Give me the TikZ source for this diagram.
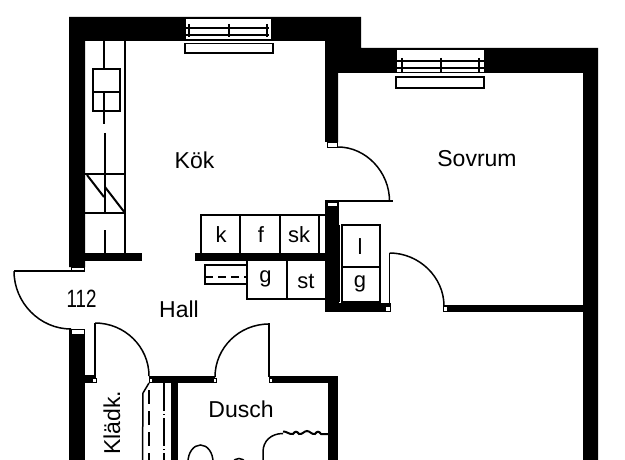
\documentclass[tikz,border=0pt]{standalone}
\usepackage{fontspec}
\setmainfont{Liberation Sans}
\usepackage{tikz}
\usetikzlibrary{positioning}

\begin{document}
\begin{tikzpicture}[
    x=1pt,y=-1pt,
    wallfill/.style={fill=black,draw=none},
    plan/.style={draw=black,line width=1.5pt},
    heavy/.style={draw=black,line width=2pt},
    slot/.style={fill=white,draw=black,line width=0.6pt},
    roomlabel/.style={font=\fontsize{23}{25}\selectfont,inner sep=0pt},
    unitlabel/.style={font=\fontsize{22}{24}\selectfont,inner sep=0pt},
]
\useasboundingbox (0,0) rectangle (625,460);
\clip (0,0) rectangle (625,460);

% Outer walls
\fill[wallfill] (69,17) -- (361,17) -- (361,48) -- (598,48) -- (598,460) -- (583,460) -- (583,73)
    -- (338,73) -- (338,142) -- (325,142) -- (325,41) -- (85,41) -- (85,267) -- (69,267) -- cycle;
\fill[wallfill] (69,329) rectangle (85,460);
% Inner walls
\fill[wallfill] (325,202) rectangle (339,312);
\fill[wallfill] (325,303) rectangle (391,312);
\fill[wallfill] (444,305) rectangle (583,312);
\fill[wallfill] (85,253) rectangle (142,261);
\fill[wallfill] (195,253) rectangle (326,261);
\fill[wallfill] (85,375) rectangle (96,383);
\fill[wallfill] (149,376) rectangle (215,383);
\fill[wallfill] (269,376) rectangle (338,383);
\fill[wallfill] (328,383) rectangle (338,460);
\fill[wallfill] (171,383) rectangle (178,460);

% Small openings at the door posts
\draw[slot] (327,142.5) rectangle (337,147);
\draw[slot] (327,202.5) rectangle (337,206);
\draw[slot] (71,267) rectangle (84,271);
\draw[slot] (71,329.5) rectangle (84,334);
\draw[slot] (92,378) rectangle (96,382);
\draw[slot] (149,378) rectangle (152,382);
\draw[slot] (213,378) rectangle (216,382);
\draw[slot] (269,378) rectangle (272,382);
\draw[slot] (385,306) rectangle (390,311);
\draw[slot] (443,306) rectangle (447,311);

% Kitchen window
\fill[white] (186,17.7) rectangle (271,40);
\draw[line width=0.6pt] (186,18) -- (271,18);
\draw[plan] (186,40) -- (271,40);
\draw[heavy] (186,28) -- (269,28);
\draw[heavy] (186,35) -- (269,35);
\foreach \tickx in {189,229,267} {
    \draw[heavy] (\tickx,24) -- (\tickx,37);
}
\draw[plan] (185,43.5) rectangle (273,53);

% Bedroom window
\fill[white] (397,49) rectangle (484,73);
\draw[line width=0.6pt] (397,49.5) -- (484,49.5);
\draw[plan] (397,72.5) -- (484,72.5);
\draw[heavy] (397,61) -- (484,61);
\draw[heavy] (397,68) -- (484,68);
\foreach \tickx in {402,441,479} {
    \draw[heavy] (\tickx,58) -- (\tickx,72);
}
\draw[plan] (396,77) rectangle (484,88);

% Kitchen counter
\draw[plan] (125,41) -- (125,253);
\draw[heavy] (104,41) -- (104,69);
\draw[heavy] (104,111) -- (104,124);
\draw[heavy] (105,133) -- (105,174);
\draw[heavy] (105,174) -- (105,213);
\draw[heavy] (105,230) -- (105,253);
\draw[heavy] (93,69) rectangle (120,111);
\draw[heavy] (93,92) -- (120,92);
\draw[heavy] (104,92) -- (104,111);
\draw[heavy] (85,174) -- (125,174);
\draw[heavy] (85,213) -- (125,213);
\draw[heavy] (87,175) -- (104,197);
\draw[heavy] (105,187) -- (125,213);

% Units by the hall
\draw[plan] (201,253) -- (201,215) -- (325,215);
\draw[plan] (240,215) -- (240,253);
\draw[plan] (280,215) -- (280,253);
\draw[plan] (319,215) -- (319,253);
\draw[plan] (247,261) -- (247,299) -- (326,299);
\draw[plan] (287,261) -- (287,299);
\draw[plan] (247,265) -- (205,265) -- (205,284) -- (247,284);
\draw[plan,dash pattern=on 8pt off 5pt] (205,277) -- (247,277);
\draw[plan] (342,225) rectangle (380,302);
\draw[plan] (342,267) -- (380,267);
\draw[line width=0.7pt] (339.5,225) -- (339.5,302);
\draw[line width=0.7pt] (343,305) -- (384,305);

% Doors
\draw[plan] (325,201) -- (393,201);
\draw[plan] (338,147) .. controls (366,147) and (389.5,172) .. (389.5,201);
\draw[plan] (389.5,306) -- (389.5,253);
\draw[plan] (389.5,253) .. controls (419,253) and (444,277) .. (444,306);
\draw[plan] (14,271) -- (85,271);
\draw[plan] (14,271) .. controls (14,303) and (40,329) .. (71,329);
\draw[plan] (95,323) -- (95,378);
\draw[plan] (95,323) .. controls (125,323) and (149,347) .. (149,376);
\draw[plan] (269,323) -- (269,377);
\draw[plan] (269,324) .. controls (239,324) and (215,348) .. (215,377);

% Wardrobe
\draw[plan] (149,383) -- (143,393) -- (142.5,460);
\draw[plan,dash pattern=on 14pt off 7pt] (149,390) -- (149,460);
\draw[plan,dash pattern=on 28pt off 3pt on 1pt off 3pt] (164,383) -- (164,460);

% Shower room fittings
\draw[plan] (200.5,462) ellipse (12.5 and 17);
\draw[plan] (239,472) ellipse (10 and 13.5);
\draw[heavy] (328,434) -- (321,434) .. controls (319,431) and (317,431) .. (315,434)
    .. controls (312,435) and (310,431) .. (307,431) .. controls (304,431) and (302,435) .. (299,434)
    .. controls (297,431) and (295,431) .. (293,434) .. controls (290,435) and (286,431) .. (283,431.5);
\draw[plan] (283,433.5) .. controls (271,433.5) and (263,441) .. (263,452) -- (263,460);

% Room names
\node[roomlabel] (kok) at (194.5,160) {Kök};
\node[roomlabel] (sovrum) at (477,159) {Sovrum};
\node[roomlabel] (hall) at (179,309) {Hall};
\node[roomlabel] (dusch) at (241,409) {Dusch};
\node[roomlabel,rotate=90] (kladk) at (112,423) {Klädk.};
\node[font=\fontsize{25}{27}\selectfont,inner sep=0pt,xscale=0.75] (nummer) at (81.5,299) {112};

% Unit letters
\node[unitlabel] (kunit) at (221,235) {k};
\node[unitlabel] (funit) at (261,235) {f};
\node[unitlabel] (skunit) at (299,235) {sk};
\node[unitlabel] (gunit) at (265.5,279) {g};
\node[unitlabel] (stunit) at (306,281) {st};
\node[unitlabel] (lunit) at (360,247) {l};
\node[unitlabel] (gtwounit) at (360,284) {g};
\end{tikzpicture}
\end{document}
